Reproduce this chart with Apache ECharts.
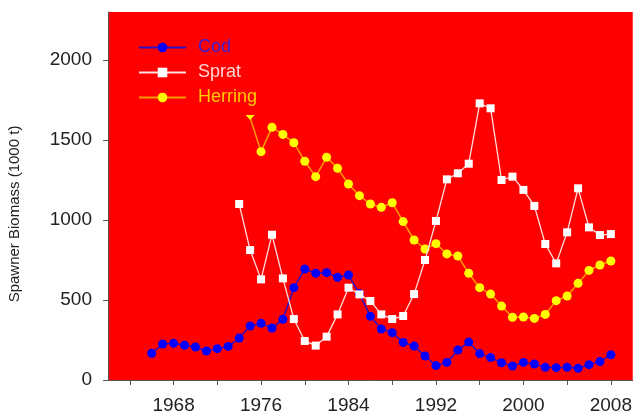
<!DOCTYPE html>
<html>
<head>
<meta charset="utf-8">
<script src="https://cdn.jsdelivr.net/npm/echarts@6/dist/echarts.min.js"></script>
<style>
html,body{margin:0;padding:0;background:#fff;}
#c{width:635px;height:416px;}
</style>
</head>
<body>
<div id="c"></div>
<script>
// ---- data ----
var codStart = 1966;
var codValues = [167,225,229,217,206,181,196,210,262,337,354,325,379,577,694,667,671,642,656,540,398,319,296,235,212,150,90,110,187,237,165,140,108,87,110,100,79,77,79,73,96,115,158];
var spratStart = 1974;
var spratValues = [1100,812,629,908,635,381,244,215,271,410,577,535,494,410,381,400,537,750,994,1254,1292,1352,1729,1698,1250,1271,1188,1088,850,729,923,1198,954,906,912];
var herringStart = 1975;
var herringValues = [1640,1427,1579,1535,1483,1367,1271,1392,1323,1225,1152,1100,1079,1108,990,875,819,852,788,775,667,577,537,462,392,394,385,410,496,525,604,685,719,744];
var seriesNames = ['Cod','Sprat','Herring'];
var xTickValues = [1964,1968,1972,1976,1980,1984,1988,1992,1996,2000,2004,2008];
var xLabelValues = [1968,1976,1984,1992,2000,2008];
var yTickValues = [0,500,1000,1500,2000];
var yTitle = 'Spawner Biomass (1000 t)';

function pairs(start, vals){
  return vals.map(function(v,i){ return [start+i, v]; });
}
var herringData = pairs(herringStart, herringValues);
herringData[0] = {value: herringData[0], symbol:'triangle', symbolRotate:180, symbolSize:[9,5]};

var chart = echarts.init(document.getElementById('c'), null, {renderer:'canvas'});
var font = '"Liberation Sans", Arial, sans-serif';
chart.setOption({
  animation:false,
  backgroundColor:'#ffffff',
  grid:{left:108,right:2,top:12,bottom:36,show:true,backgroundColor:'#ff0000',borderWidth:0},
  xAxis:{
    type:'value', min:1962, max:2010, interval:2,
    splitLine:{show:false},
    axisLine:{show:true,onZero:false,lineStyle:{color:'#555',width:1}},
    axisTick:{show:true,inside:false,length:5,customValues:xTickValues,lineStyle:{color:'#555'}},
    axisLabel:{customValues:xLabelValues,margin:16,fontSize:19,color:'#222',fontFamily:font,
      formatter:function(v){return String(v);}}
  },
  yAxis:{
    type:'value', min:0, max:2300, interval:500,
    splitLine:{show:false},
    axisLine:{show:true,lineStyle:{color:'#555',width:1}},
    axisTick:{show:true,inside:false,length:5,customValues:yTickValues,lineStyle:{color:'#555'}},
    axisLabel:{customValues:yTickValues,margin:16,fontSize:19,color:'#222',fontFamily:font,
      formatter:function(v){return String(v);}}
  },
  legend:{
    orient:'vertical', left:138, top:37, padding:0, itemWidth:47, itemHeight:12, itemGap:4,
    textStyle:{fontSize:18,lineHeight:21,fontFamily:font,padding:[0,0,0,7]},
    data:[
      {name:'Cod',textStyle:{color:'#3a1fd6'}},
      {name:'Sprat',textStyle:{color:'#ffd6d6'}},
      {name:'Herring',textStyle:{color:'#ffcc00'}}
    ]
  },
  graphic:[{
    type:'text', x:15, y:214, rotation:Math.PI/2,
    style:{text:yTitle, fill:'#222', font:'15px "Liberation Sans", Arial, sans-serif', textAlign:'center', textVerticalAlign:'middle'}
  }],
  series:[
    {name:seriesNames[0], type:'line', data:pairs(codStart,codValues), symbol:'circle', symbolSize:9, showAllSymbol:true,
     lineStyle:{color:'#2a10c8',width:1.5}, itemStyle:{color:'#0000ff',borderWidth:0}, z:3},
    {name:seriesNames[1], type:'line', data:pairs(spratStart,spratValues), symbol:'rect', symbolSize:8, showAllSymbol:true,
     lineStyle:{color:'#ffdede',width:1.3}, itemStyle:{color:'#ffffff',borderWidth:0}, z:4},
    {name:seriesNames[2], type:'line', data:herringData, symbol:'circle', symbolSize:9, showAllSymbol:true,
     lineStyle:{color:'#ff9a00',width:1.5}, itemStyle:{color:'#ffff00',borderWidth:0}, z:2}
  ]
});
</script>
</body>
</html>
